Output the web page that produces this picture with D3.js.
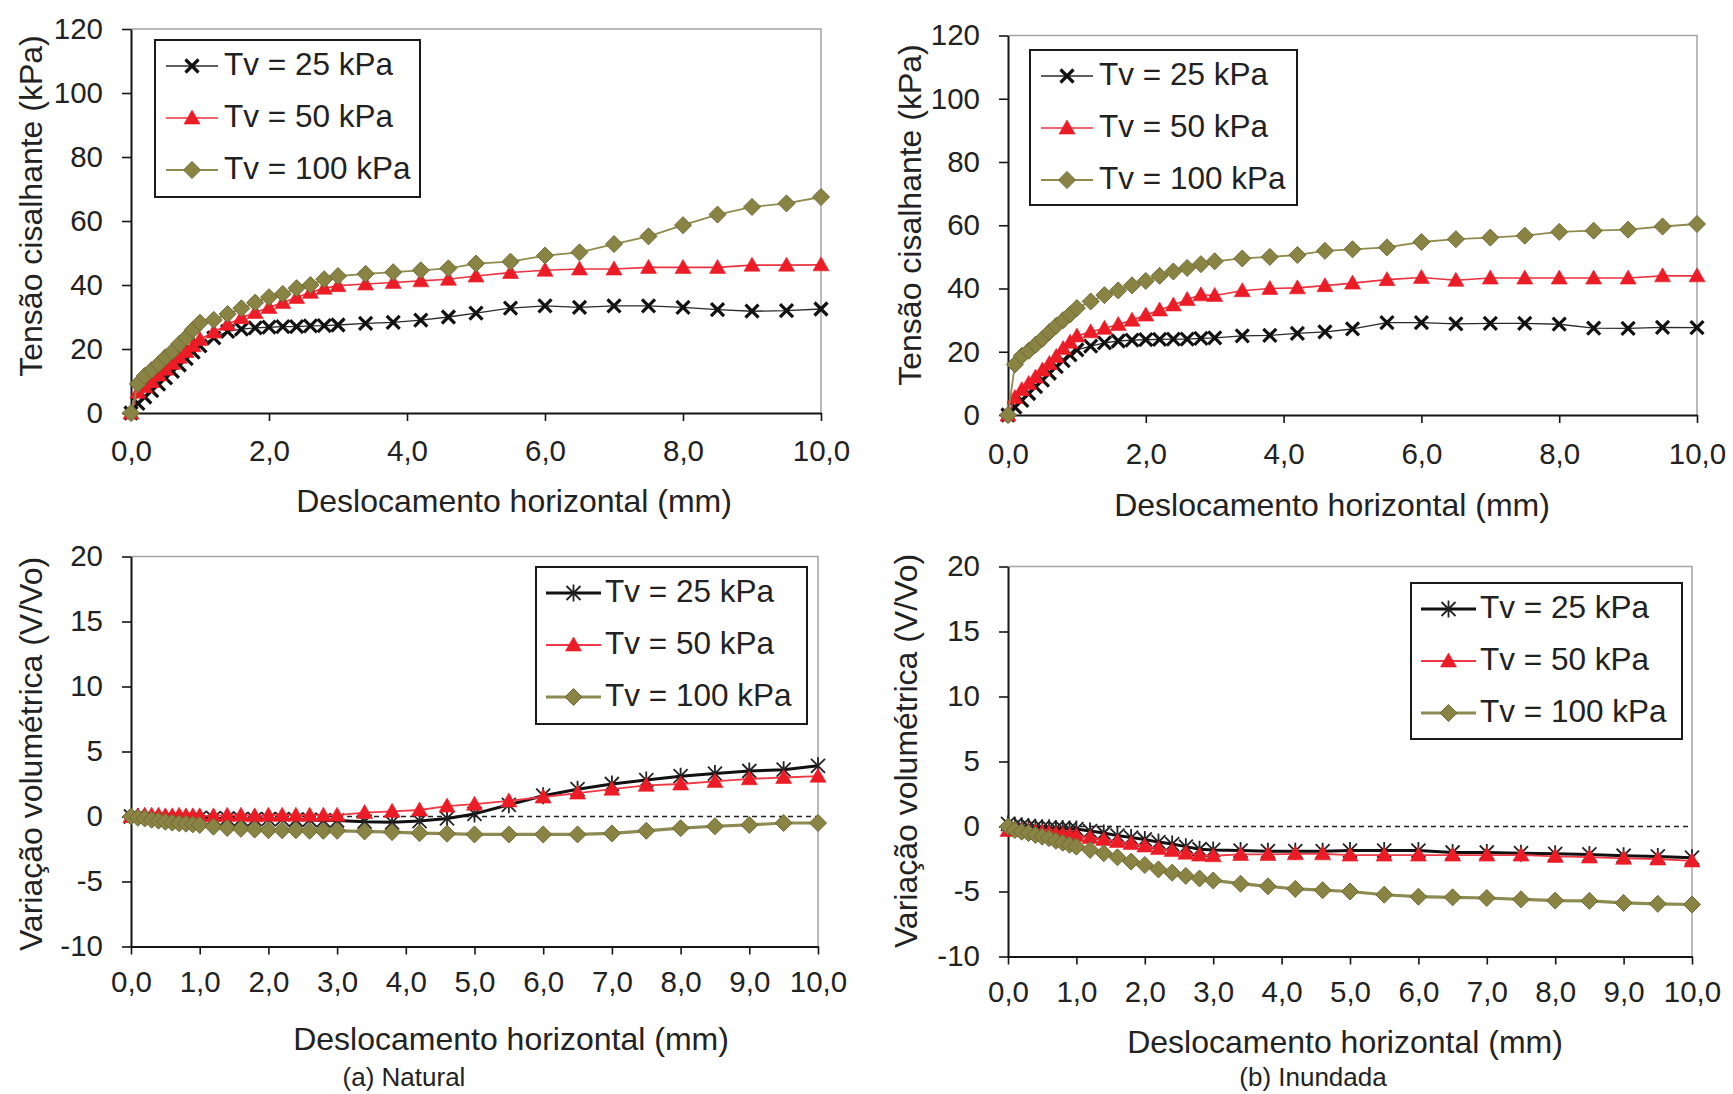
<!DOCTYPE html>
<html>
<head>
<meta charset="utf-8">
<script src="https://cdn.jsdelivr.net/npm/d3@7"></script>
<style>
  body { margin: 0; background: #fff; }
  svg { display: block; font-family: "Liberation Sans", Arial, sans-serif; }
</style>
</head>
<body>
<svg id="fig" width="1733" height="1094"></svg>
<script>
// Horizontal displacement readings (mm), shared by every test
const displacement = [0, 0.1, 0.2, 0.3, 0.4, 0.5, 0.6, 0.7, 0.8, 0.9, 1.0,
  1.2, 1.4, 1.6, 1.8, 2.0, 2.2, 2.4, 2.6, 2.8, 3.0,
  3.4, 3.8, 4.2, 4.6, 5.0,
  5.5, 6.0, 6.5, 7.0, 7.5, 8.0, 8.5, 9.0, 9.5, 10.0];

const seriesNames = ["Tv = 25 kPa", "Tv = 50 kPa", "Tv = 100 kPa"];

// Shear stress (kPa) - natural moisture
const shearNatural25 = [0, 3, 5, 7, 9, 11, 13, 15, 17, 19, 21,
  23.5, 25.5, 26.2, 26.6, 26.8, 27, 27, 27.2, 27.3, 27.5,
  28, 28.3, 29, 30, 31.2,
  32.8, 33.5, 33, 33.5, 33.5, 33, 32.3, 31.8, 32, 32.5];
const shearNatural50 = [0, 6.5, 8.2, 9.8, 11.9, 13.7, 15.5, 17.4, 19.2, 21, 23,
  25.3, 27.7, 29.8, 31.4, 33, 34.5, 36.1, 37.7, 39, 39.8,
  40.3, 40.8, 41.3, 41.8, 42.8,
  43.9, 44.6, 45, 45, 45.5, 45.5, 45.5, 46.2, 46.2, 46.3];
const shearNatural100 = [0, 9.1, 11.6, 13.4, 15.3, 17.4, 19.2, 21.6, 23.6, 26.1, 28.2,
  29.1, 30.9, 32.7, 34.5, 36.2, 37.2, 39, 40, 41.8, 42.8,
  43.5, 44, 44.6, 45.2, 46.7,
  47.3, 49.2, 50.2, 52.8, 55.2, 58.7, 62, 64.4, 65.5, 67.5];

// Shear stress (kPa) - flooded
const shearFlooded25 = [0, 2.5, 4.6, 6.8, 9, 11, 13.2, 15.3, 17.2, 19, 20.6,
  21.8, 22.8, 23.4, 23.7, 23.8, 23.9, 24, 24, 24.2, 24.4,
  25, 25.2, 25.8, 26.3, 27.2,
  29.2, 29.2, 28.8, 29, 29, 28.7, 27.5, 27.4, 27.7, 27.6];
const shearFlooded50 = [0, 5.5, 8, 10, 12, 14.2, 16.3, 18.5, 21, 23, 25,
  26.3, 27.4, 28.6, 30, 31.6, 33.2, 34.8, 36.5, 38, 37.8,
  39.3, 40, 40.2, 40.9, 41.7,
  42.8, 43.5, 42.6, 43.3, 43.3, 43.3, 43.3, 43.3, 44, 44];
const shearFlooded100 = [0, 16, 18.7, 20.3, 22.2, 24.1, 26.2, 28.2, 30, 31.8, 33.8,
  35.9, 37.9, 39.4, 41, 42.4, 44, 45.4, 46.5, 47.7, 48.6,
  49.5, 50, 50.6, 51.9, 52.4,
  53, 54.7, 55.6, 56.1, 56.7, 57.9, 58.3, 58.6, 59.6, 60.4];

// Volumetric change (V/Vo) - natural moisture
const volumeNatural25 = [0, 0, -0.05, -0.05, -0.1, -0.1, -0.1, -0.1, -0.1, -0.1, -0.1,
  -0.15, -0.15, -0.2, -0.2, -0.2, -0.2, -0.25, -0.25, -0.3, -0.3,
  -0.4, -0.45, -0.35, -0.15, 0.2,
  0.9, 1.6, 2.1, 2.5, 2.8, 3.1, 3.3, 3.5, 3.6, 3.9];
const volumeNatural50 = [0, 0.05, 0.1, 0.1, 0.1, 0.05, 0.05, 0.1, 0.05, 0.05, 0.05,
  0.05, 0.1, 0.1, 0.05, 0.1, 0.1, 0.1, 0.1, 0.1, 0.1,
  0.3, 0.4, 0.5, 0.8, 0.95,
  1.2, 1.5, 1.8, 2.1, 2.4, 2.5, 2.7, 2.9, 3.0, 3.1];
const volumeNatural100 = [0, -0.1, -0.15, -0.25, -0.32, -0.4, -0.47, -0.52, -0.55, -0.6, -0.65,
  -0.78, -0.88, -0.95, -1.0, -1.05, -1.05, -1.05, -1.1, -1.1, -1.1,
  -1.15, -1.2, -1.28, -1.32, -1.38,
  -1.38, -1.38, -1.38, -1.3, -1.1, -0.9, -0.75, -0.65, -0.5, -0.5];

// Volumetric change (V/Vo) - flooded
const volumeFlooded25 = [0.2, 0.1, 0.05, 0, -0.05, -0.1, -0.1, -0.15, -0.15, -0.2, -0.2,
  -0.35, -0.5, -0.7, -0.85, -1.0, -1.2, -1.35, -1.55, -1.75, -1.8,
  -1.85, -1.9, -1.9, -1.9, -1.85,
  -1.85, -1.85, -2.0, -2.0, -2.05, -2.1, -2.15, -2.25, -2.3, -2.4];
const volumeFlooded50 = [-0.3, -0.25, -0.3, -0.35, -0.4, -0.45, -0.5, -0.55, -0.6, -0.65, -0.7,
  -0.85, -1.0, -1.15, -1.3, -1.5, -1.7, -1.85, -2.05, -2.2, -2.25,
  -2.15, -2.15, -2.1, -2.1, -2.2,
  -2.2, -2.2, -2.2, -2.2, -2.2, -2.3, -2.35, -2.45, -2.5, -2.65];
const volumeFlooded100 = [0, -0.27, -0.4, -0.5, -0.65, -0.78, -0.9, -1.1, -1.25, -1.4, -1.55,
  -1.8, -2.06, -2.37, -2.7, -2.96, -3.3, -3.55, -3.8, -4.0, -4.15,
  -4.4, -4.6, -4.8, -4.9, -5.0,
  -5.25, -5.4, -5.45, -5.5, -5.6, -5.7, -5.72, -5.88, -5.95, -6.0];

// Tick values
const shearTicks = [0, 20, 40, 60, 80, 100, 120];
const volumeTicks = [-10, -5, 0, 5, 10, 15, 20];
const shearXTicks = [0, 2, 4, 6, 8, 10];
const volumeXTicks = [0, 1, 2, 3, 4, 5, 6, 7, 8, 9, 10];

const textColor = "#222";
const fmtX = d => d3.format(".1f")(d).replace(".", ",");
const fmtY = d => String(d);

// marker glyphs
const markers = {
  cross: "M-6.5,-6.5L6.5,6.5M-6.5,6.5L6.5,-6.5",
  star: "M-7,-7L7,7M-7,7L7,-7M0,-8.5V8.5",
  triangle: "M0,-8L8,6L-8,6Z",
  diamond: "M0,-8.5L8.5,0L0,8.5L-8.5,0Z"
};

const topStyles = [
  { line: "#2a2a2a", lw: 1.3, marker: markers.cross, fill: "none", stroke: "#111", sw: 3.2 },
  { line: "#ea3340", lw: 1.6, marker: markers.triangle, fill: "#ec1c26", stroke: "#ec1c26", sw: 0.6 },
  { line: "#8f8b4e", lw: 1.8, marker: markers.diamond, fill: "#8a8444", stroke: "#6e6934", sw: 1 }
];
const bottomStyles = [
  { line: "#111", lw: 3, marker: markers.star, fill: "none", stroke: "#222", sw: 1.8 },
  { line: "#ee3844", lw: 1.8, marker: markers.triangle, fill: "#ec1c26", stroke: "#ec1c26", sw: 0.6 },
  { line: "#8d8a52", lw: 3.2, marker: markers.diamond, fill: "#8a8444", stroke: "#6e6934", sw: 1 }
];

const panels = [
  { left: 131, right: 821, top: 29, bottom: 413, yDomain: [0, 120], yTicks: shearTicks, xTicks: shearXTicks,
    xPad: 19.5, series: [shearNatural25, shearNatural50, shearNatural100], styles: topStyles,
    legend: { x: 155, y: 40, w: 265, h: 157, lineX0: 166, lineX1: 218, textX: 224 },
    yTitle: "Tensão cisalhante (kPa)", yTitleX: 42, yTitleY: 206,
    xTitleX: 514, xTitleY: 512, zeroLine: false },
  { left: 1008, right: 1697, top: 35.5, bottom: 415, yDomain: [0, 120], yTicks: shearTicks, xTicks: shearXTicks,
    xPad: 20, series: [shearFlooded25, shearFlooded50, shearFlooded100], styles: topStyles,
    legend: { x: 1030, y: 50, w: 267, h: 155, lineX0: 1041, lineX1: 1093, textX: 1099 },
    yTitle: "Tensão cisalhante (kPa)", yTitleX: 921, yTitleY: 215,
    xTitleX: 1332, xTitleY: 516, zeroLine: false },
  { left: 131, right: 818, top: 556.5, bottom: 946.5, yDomain: [-10, 20], yTicks: volumeTicks, xTicks: volumeXTicks,
    xPad: 17, series: [volumeNatural25, volumeNatural50, volumeNatural100], styles: bottomStyles,
    legend: { x: 536, y: 567, w: 271, h: 157, lineX0: 546, lineX1: 601, textX: 605 },
    yTitle: "Variação volumétrica (V/Vo)", yTitleX: 42, yTitleY: 754,
    xTitleX: 511, xTitleY: 1050, zeroLine: true },
  { left: 1008, right: 1692, top: 566.5, bottom: 956.5, yDomain: [-10, 20], yTicks: volumeTicks, xTicks: volumeXTicks,
    xPad: 16.5, series: [volumeFlooded25, volumeFlooded50, volumeFlooded100], styles: bottomStyles,
    legend: { x: 1411, y: 583, w: 271, h: 156, lineX0: 1421, lineX1: 1476, textX: 1480 },
    yTitle: "Variação volumétrica (V/Vo)", yTitleX: 917, yTitleY: 751,
    xTitleX: 1345, xTitleY: 1053, zeroLine: true }
];

const svg = d3.select("#fig");

function drawMarker(sel, st) {
  sel.attr("d", st.marker)
    .attr("fill", st.fill)
    .attr("stroke", st.stroke)
    .attr("stroke-width", st.sw)
    .attr("stroke-linejoin", "miter");
}

function drawPanel(p) {
  const g = svg.append("g");
  const x = d3.scaleLinear().domain([0, 10]).range([p.left, p.right]);
  const y = d3.scaleLinear().domain(p.yDomain).range([p.bottom, p.top]);

  // light frame on top and right
  g.append("path")
    .attr("d", `M${p.left},${p.top}H${p.right}V${p.bottom}`)
    .attr("fill", "none").attr("stroke", "#a4a4a4").attr("stroke-width", 1.5);

  if (p.zeroLine) {
    g.append("line")
      .attr("x1", x(0)).attr("x2", x(10)).attr("y1", y(0)).attr("y2", y(0))
      .attr("stroke", "#222").attr("stroke-width", 1.3).attr("stroke-dasharray", "5,4");
  }

  // axes
  const ax = g.append("g").attr("transform", `translate(0,${p.bottom})`)
    .call(d3.axisBottom(x).tickValues(p.xTicks).tickFormat(fmtX)
      .tickSize(8).tickSizeOuter(0).tickPadding(p.xPad));
  const ay = g.append("g").attr("transform", `translate(${p.left},0)`)
    .call(d3.axisLeft(y).tickValues(p.yTicks).tickFormat(fmtY)
      .tickSize(9).tickSizeOuter(0).tickPadding(19));
  [ax, ay].forEach(a => {
    a.attr("font-family", null).attr("font-size", null);
    a.select(".domain").attr("stroke", "#151515").attr("stroke-width", 2);
    a.selectAll(".tick line").attr("stroke", "#151515").attr("stroke-width", 1.6);
    a.selectAll(".tick text").attr("fill", textColor).style("font-size", "29.5px");
  });

  // data series
  const line = d3.line().x(d => x(d[0])).y(d => y(d[1]));
  p.series.forEach((vals, i) => {
    const st = p.styles[i];
    const pts = displacement.map((d, j) => [d, vals[j]]);
    g.append("path").datum(pts)
      .attr("d", line)
      .attr("fill", "none").attr("stroke", st.line).attr("stroke-width", st.lw)
      .attr("stroke-linejoin", "round");
    g.append("g").selectAll("path").data(pts).join("path")
      .attr("transform", d => `translate(${x(d[0])},${y(d[1])})`)
      .call(drawMarker, st);
  });

  // legend
  const L = p.legend;
  const lg = g.append("g");
  lg.append("rect").attr("x", L.x).attr("y", L.y).attr("width", L.w).attr("height", L.h)
    .attr("fill", "#fff").attr("stroke", "#1a1a1a").attr("stroke-width", 2);
  seriesNames.forEach((name, i) => {
    const st = p.styles[i];
    const ry = L.y + 26 + i * 52;
    lg.append("line").attr("x1", L.lineX0).attr("x2", L.lineX1).attr("y1", ry).attr("y2", ry)
      .attr("stroke", st.line).attr("stroke-width", st.lw);
    lg.append("path").attr("transform", `translate(${(L.lineX0 + L.lineX1) / 2},${ry})`).call(drawMarker, st);
    lg.append("text").attr("x", L.textX).attr("y", ry + 9)
      .attr("fill", textColor).style("font-size", "31.5px").text(name);
  });

  // axis titles
  g.append("text")
    .attr("transform", `translate(${p.yTitleX},${p.yTitleY}) rotate(-90)`)
    .attr("text-anchor", "middle").attr("fill", textColor).style("font-size", "32px")
    .text(p.yTitle);
  g.append("text")
    .attr("x", p.xTitleX).attr("y", p.xTitleY)
    .attr("text-anchor", "middle").attr("fill", textColor).style("font-size", "32px")
    .text("Deslocamento horizontal (mm)");
}

panels.forEach(drawPanel);

// panel captions
const captions = [{ text: "(a) Natural", x: 404 }, { text: "(b) Inundada", x: 1313 }];
svg.selectAll("text.caption").data(captions).join("text")
  .attr("class", "caption")
  .attr("x", d => d.x).attr("y", 1086)
  .attr("text-anchor", "middle").attr("fill", textColor).style("font-size", "26px")
  .text(d => d.text);
</script>
</body>
</html>
